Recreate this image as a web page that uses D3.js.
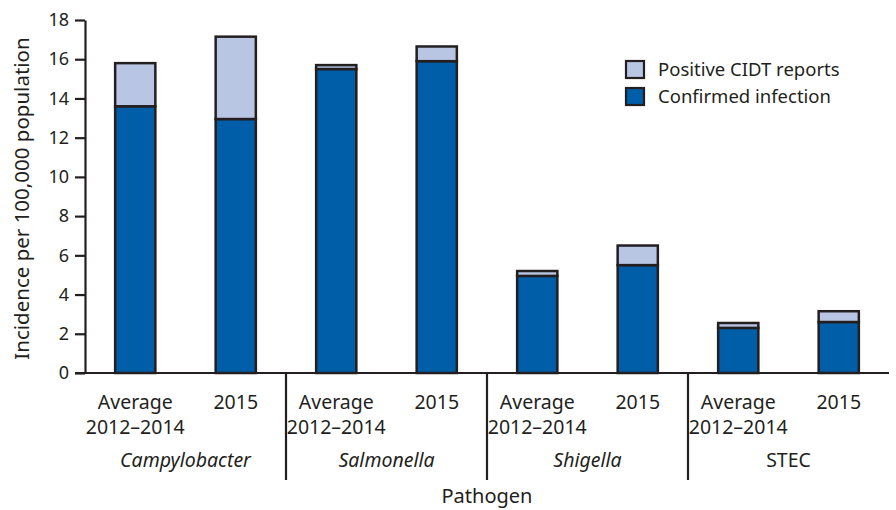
<!DOCTYPE html>
<html>
<head>
<meta charset="utf-8">
<script src="https://cdn.jsdelivr.net/npm/d3@7"></script>
<style>
  body { margin: 0; background: #fff; }
  text { font-family: "Noto Sans", "Open Sans", sans-serif; fill: #231f20; }
</style>
</head>
<body>
<div class="chartframe"></div>
<script>
(function(){

    //chart data
    var pathogens = ["Campylobacter", "Salmonella", "Shigella", "STEC"],
        italicPathogen = [true, true, true, false],
        periods = ["Average\n2012\u20132014", "2015"],
        confirmed = [13.6, 12.95, 15.5, 15.9, 4.95, 5.5, 2.3, 2.6],
        positiveCidt = [2.2, 4.2, 0.2, 0.75, 0.25, 1.0, 0.25, 0.55],
        seriesNames = ["Confirmed infection", "Positive CIDT reports"],
        yTicks = [0, 2, 4, 6, 8, 10, 12, 14, 16, 18];

    var width = 896, height = 510,
        left = 85, right = 889, top = 20, bottom = 373;

    var colors = {"Confirmed infection": "#005da8", "Positive CIDT reports": "#b8c5e3"};

    //one row per bar
    var rows = [];
    pathogens.forEach(function(p, i){
        periods.forEach(function(per, j){
            var k = i * periods.length + j;
            rows.push({
                key: p + "|" + j,
                pathogen: p,
                period: per,
                "Confirmed infection": confirmed[k],
                "Positive CIDT reports": positiveCidt[k]
            });
        });
    });

    var svg = d3.select(".chartframe")
        .append("svg")
        .attr("width", width)
        .attr("height", height);

    var x = d3.scaleBand()
        .domain(rows.map(function(d){ return d.key; }))
        .range([left, right])
        .paddingInner(0.6)
        .paddingOuter(0.3);

    var y = d3.scaleLinear().domain([0, 18]).range([bottom, top]);

    var stack = d3.stack().keys(seriesNames);
    var layers = stack(rows);

    //bars
    svg.selectAll(".layer")
        .data(layers)
        .enter()
        .append("g")
        .attr("class", "layer")
        .attr("fill", function(d){ return colors[d.key]; })
        .selectAll("rect")
        .data(function(d){ return d; })
        .enter()
        .append("rect")
        .attr("x", function(d){ return x(d.data.key); })
        .attr("width", x.bandwidth())
        .attr("y", function(d){ return y(d[1]); })
        .attr("height", function(d){ return y(d[0]) - y(d[1]); })
        .attr("stroke", "#231f20")
        .attr("stroke-width", 2.5);

    //y axis
    var yAxis = d3.axisLeft(y)
        .tickValues(yTicks)
        .tickSize(10)
        .tickPadding(6)
        .tickSizeOuter(0);

    var axis = svg.append("g")
        .attr("class", "axis")
        .attr("transform", "translate(" + left + ",0)")
        .call(yAxis);
    axis.select(".domain").attr("stroke", "#231f20").attr("stroke-width", 2.2);
    axis.selectAll(".tick line").attr("stroke", "#231f20").attr("stroke-width", 2.2);
    axis.selectAll(".tick text")
        .style("font-size", "18px")
        .attr("fill", "#231f20")
        .attr("font-family", null);

    //x axis baseline
    svg.append("line")
        .attr("x1", left - 10)
        .attr("x2", right)
        .attr("y1", bottom)
        .attr("y2", bottom)
        .attr("stroke", "#231f20")
        .attr("stroke-width", 2.2);

    //group dividers
    var step = x.step();
    var groupWidth = step * periods.length;
    d3.range(1, pathogens.length).forEach(function(i){
        svg.append("line")
            .attr("x1", left + i * groupWidth)
            .attr("x2", left + i * groupWidth)
            .attr("y1", bottom)
            .attr("y2", 480)
            .attr("stroke", "#231f20")
            .attr("stroke-width", 2.2);
    });

    //period labels
    rows.forEach(function(d){
        var cx = x(d.key) + x.bandwidth() / 2;
        var lines = d.period.split("\n");
        var t = svg.append("text")
            .attr("text-anchor", "middle")
            .style("font-size", "19.5px");
        lines.forEach(function(l, i){
            t.append("tspan")
                .attr("x", cx)
                .attr("y", 409 + i * 25)
                .text(l);
        });
    });

    //pathogen labels
    pathogens.forEach(function(p, i){
        svg.append("text")
            .attr("x", left + i * groupWidth + groupWidth / 2)
            .attr("y", 467)
            .attr("text-anchor", "middle")
            .style("font-size", "19.5px")
            .style("font-style", italicPathogen[i] ? "italic" : "normal")
            .text(p);
    });

    //axis titles
    svg.append("text")
        .attr("x", 487)
        .attr("y", 503)
        .attr("text-anchor", "middle")
        .style("font-size", "20px")
        .text("Pathogen");

    svg.append("text")
        .attr("transform", "translate(29," + ((top + bottom) / 2 + 2) + ") rotate(-90)")
        .attr("text-anchor", "middle")
        .style("font-size", "20.5px")
        .text("Incidence per 100,000 population");

    //legend
    var legendItems = seriesNames.slice().reverse();
    var legend = svg.selectAll(".legend")
        .data(legendItems)
        .enter()
        .append("g")
        .attr("class", "legend")
        .attr("transform", function(d, i){ return "translate(626," + (61 + i * 27) + ")"; });

    legend.append("rect")
        .attr("width", 18)
        .attr("height", 17)
        .attr("fill", function(d){ return colors[d]; })
        .attr("stroke", "#231f20")
        .attr("stroke-width", 2.2);

    legend.append("text")
        .attr("x", 32)
        .attr("y", 15)
        .style("font-size", "18.5px")
        .text(function(d){ return d; });

})();
</script>
</body>
</html>
